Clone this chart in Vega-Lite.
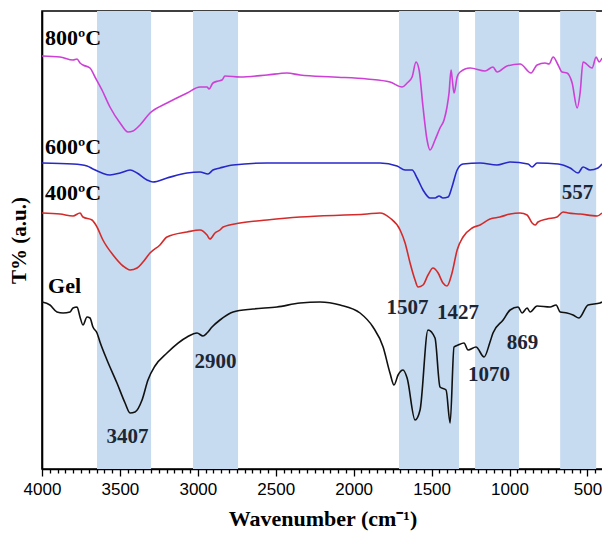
{
  "$schema": "https://vega.github.io/schema/vega-lite/v6.json",
  "autosize": {"type": "none"},
  "width": 561,
  "height": 458,
  "padding": {"left": 42, "top": 11, "right": 0, "bottom": 64},
  "background": "white",
  "config": {"view": {"stroke": "black", "strokeWidth": 1.6}},
  "datasets": {
    "bands": [
      {"w": 3647, "w2": 3300},
      {"w": 3031, "w2": 2742},
      {"w": 1709, "w2": 1324},
      {"w": 1221, "w2": 939},
      {"w": 675, "w2": 444}
    ],
    "spectra": [
      {"s": "800", "w": 4000, "t": 413}, {"s": "800", "w": 3884, "t": 412}, {"s": "800", "w": 3801, "t": 409}, {"s": "800", "w": 3775, "t": 410}, {"s": "800", "w": 3756, "t": 406}, {"s": "800", "w": 3737, "t": 404}, {"s": "800", "w": 3692, "t": 401}, {"s": "800", "w": 3660, "t": 392}, {"s": "800", "w": 3615, "t": 379}, {"s": "800", "w": 3564, "t": 362}, {"s": "800", "w": 3499, "t": 346}, {"s": "800", "w": 3448, "t": 337}, {"s": "800", "w": 3416, "t": 338}, {"s": "800", "w": 3371, "t": 344}, {"s": "800", "w": 3307, "t": 356}, {"s": "800", "w": 3198, "t": 366}, {"s": "800", "w": 3069, "t": 376}, {"s": "800", "w": 2986, "t": 382}, {"s": "800", "w": 2941, "t": 382}, {"s": "800", "w": 2928, "t": 380}, {"s": "800", "w": 2903, "t": 386}, {"s": "800", "w": 2870, "t": 388}, {"s": "800", "w": 2845, "t": 389}, {"s": "800", "w": 2826, "t": 393}, {"s": "800", "w": 2729, "t": 392}, {"s": "800", "w": 2556, "t": 394}, {"s": "800", "w": 2428, "t": 396}, {"s": "800", "w": 2344, "t": 394}, {"s": "800", "w": 2132, "t": 392}, {"s": "800", "w": 1914, "t": 390}, {"s": "800", "w": 1767, "t": 387}, {"s": "800", "w": 1689, "t": 382}, {"s": "800", "w": 1657, "t": 386}, {"s": "800", "w": 1625, "t": 392}, {"s": "800", "w": 1600, "t": 407}, {"s": "800", "w": 1580, "t": 399}, {"s": "800", "w": 1555, "t": 362}, {"s": "800", "w": 1529, "t": 329}, {"s": "800", "w": 1510, "t": 319}, {"s": "800", "w": 1478, "t": 329}, {"s": "800", "w": 1446, "t": 341}, {"s": "800", "w": 1420, "t": 349}, {"s": "800", "w": 1401, "t": 362}, {"s": "800", "w": 1388, "t": 376}, {"s": "800", "w": 1375, "t": 399}, {"s": "800", "w": 1369, "t": 392}, {"s": "800", "w": 1356, "t": 376}, {"s": "800", "w": 1336, "t": 392}, {"s": "800", "w": 1317, "t": 397}, {"s": "800", "w": 1253, "t": 401}, {"s": "800", "w": 1157, "t": 398}, {"s": "800", "w": 1106, "t": 402}, {"s": "800", "w": 1080, "t": 397}, {"s": "800", "w": 1016, "t": 403}, {"s": "800", "w": 932, "t": 405}, {"s": "800", "w": 862, "t": 396}, {"s": "800", "w": 823, "t": 404}, {"s": "800", "w": 772, "t": 406}, {"s": "800", "w": 746, "t": 405}, {"s": "800", "w": 720, "t": 412}, {"s": "800", "w": 688, "t": 404}, {"s": "800", "w": 663, "t": 397}, {"s": "800", "w": 631, "t": 396}, {"s": "800", "w": 598, "t": 386}, {"s": "800", "w": 566, "t": 361}, {"s": "800", "w": 547, "t": 376}, {"s": "800", "w": 528, "t": 407}, {"s": "800", "w": 470, "t": 401}, {"s": "800", "w": 444, "t": 412}, {"s": "800", "w": 425, "t": 407}, {"s": "800", "w": 406, "t": 411},

      {"s": "600", "w": 4000, "t": 306}, {"s": "600", "w": 3801, "t": 305}, {"s": "600", "w": 3711, "t": 303}, {"s": "600", "w": 3673, "t": 300}, {"s": "600", "w": 3615, "t": 296}, {"s": "600", "w": 3564, "t": 294}, {"s": "600", "w": 3499, "t": 296}, {"s": "600", "w": 3435, "t": 299}, {"s": "600", "w": 3390, "t": 296}, {"s": "600", "w": 3326, "t": 289}, {"s": "600", "w": 3288, "t": 287}, {"s": "600", "w": 3198, "t": 291}, {"s": "600", "w": 3069, "t": 296}, {"s": "600", "w": 2986, "t": 297}, {"s": "600", "w": 2935, "t": 295}, {"s": "600", "w": 2903, "t": 299}, {"s": "600", "w": 2858, "t": 301}, {"s": "600", "w": 2774, "t": 304}, {"s": "600", "w": 2556, "t": 306}, {"s": "600", "w": 2344, "t": 306}, {"s": "600", "w": 1831, "t": 306}, {"s": "600", "w": 1722, "t": 303}, {"s": "600", "w": 1670, "t": 299}, {"s": "600", "w": 1625, "t": 299}, {"s": "600", "w": 1593, "t": 291}, {"s": "600", "w": 1555, "t": 279}, {"s": "600", "w": 1510, "t": 271}, {"s": "600", "w": 1478, "t": 271}, {"s": "600", "w": 1452, "t": 273}, {"s": "600", "w": 1427, "t": 271}, {"s": "600", "w": 1394, "t": 272}, {"s": "600", "w": 1369, "t": 282}, {"s": "600", "w": 1336, "t": 299}, {"s": "600", "w": 1298, "t": 305}, {"s": "600", "w": 1189, "t": 306}, {"s": "600", "w": 1080, "t": 304}, {"s": "600", "w": 996, "t": 307}, {"s": "600", "w": 881, "t": 305}, {"s": "600", "w": 855, "t": 302}, {"s": "600", "w": 823, "t": 306}, {"s": "600", "w": 688, "t": 305}, {"s": "600", "w": 611, "t": 301}, {"s": "600", "w": 560, "t": 296}, {"s": "600", "w": 528, "t": 302}, {"s": "600", "w": 483, "t": 299}, {"s": "600", "w": 432, "t": 301}, {"s": "600", "w": 406, "t": 305},

      {"s": "400", "w": 4000, "t": 256}, {"s": "400", "w": 3884, "t": 255}, {"s": "400", "w": 3801, "t": 253}, {"s": "400", "w": 3756, "t": 256}, {"s": "400", "w": 3737, "t": 252}, {"s": "400", "w": 3679, "t": 249}, {"s": "400", "w": 3647, "t": 242}, {"s": "400", "w": 3609, "t": 229}, {"s": "400", "w": 3544, "t": 214}, {"s": "400", "w": 3480, "t": 203}, {"s": "400", "w": 3435, "t": 199}, {"s": "400", "w": 3390, "t": 201}, {"s": "400", "w": 3352, "t": 207}, {"s": "400", "w": 3307, "t": 216}, {"s": "400", "w": 3243, "t": 224}, {"s": "400", "w": 3198, "t": 232}, {"s": "400", "w": 3069, "t": 237}, {"s": "400", "w": 2986, "t": 239}, {"s": "400", "w": 2941, "t": 234}, {"s": "400", "w": 2922, "t": 230}, {"s": "400", "w": 2890, "t": 236}, {"s": "400", "w": 2858, "t": 239}, {"s": "400", "w": 2838, "t": 242}, {"s": "400", "w": 2729, "t": 246}, {"s": "400", "w": 2556, "t": 249}, {"s": "400", "w": 2344, "t": 252}, {"s": "400", "w": 1914, "t": 255}, {"s": "400", "w": 1831, "t": 256}, {"s": "400", "w": 1767, "t": 251}, {"s": "400", "w": 1702, "t": 239}, {"s": "400", "w": 1670, "t": 226}, {"s": "400", "w": 1638, "t": 206}, {"s": "400", "w": 1606, "t": 189}, {"s": "400", "w": 1587, "t": 182}, {"s": "400", "w": 1555, "t": 184}, {"s": "400", "w": 1523, "t": 194}, {"s": "400", "w": 1491, "t": 201}, {"s": "400", "w": 1458, "t": 196}, {"s": "400", "w": 1427, "t": 186}, {"s": "400", "w": 1401, "t": 183}, {"s": "400", "w": 1369, "t": 196}, {"s": "400", "w": 1336, "t": 219}, {"s": "400", "w": 1298, "t": 232}, {"s": "400", "w": 1240, "t": 241}, {"s": "400", "w": 1189, "t": 244}, {"s": "400", "w": 1125, "t": 250}, {"s": "400", "w": 1061, "t": 252}, {"s": "400", "w": 996, "t": 255}, {"s": "400", "w": 932, "t": 256}, {"s": "400", "w": 887, "t": 254}, {"s": "400", "w": 855, "t": 246}, {"s": "400", "w": 836, "t": 244}, {"s": "400", "w": 817, "t": 247}, {"s": "400", "w": 759, "t": 250}, {"s": "400", "w": 695, "t": 252}, {"s": "400", "w": 656, "t": 257}, {"s": "400", "w": 624, "t": 256}, {"s": "400", "w": 547, "t": 255}, {"s": "400", "w": 438, "t": 253}, {"s": "400", "w": 406, "t": 256},

      {"s": "Gel", "w": 4000, "t": 167}, {"s": "Gel", "w": 3949, "t": 164}, {"s": "Gel", "w": 3904, "t": 157}, {"s": "Gel", "w": 3865, "t": 156}, {"s": "Gel", "w": 3820, "t": 157}, {"s": "Gel", "w": 3801, "t": 161}, {"s": "Gel", "w": 3775, "t": 162}, {"s": "Gel", "w": 3756, "t": 152}, {"s": "Gel", "w": 3737, "t": 144}, {"s": "Gel", "w": 3711, "t": 152}, {"s": "Gel", "w": 3692, "t": 151}, {"s": "Gel", "w": 3673, "t": 142}, {"s": "Gel", "w": 3647, "t": 136}, {"s": "Gel", "w": 3628, "t": 127}, {"s": "Gel", "w": 3583, "t": 109}, {"s": "Gel", "w": 3519, "t": 86}, {"s": "Gel", "w": 3467, "t": 66}, {"s": "Gel", "w": 3435, "t": 56}, {"s": "Gel", "w": 3403, "t": 57}, {"s": "Gel", "w": 3358, "t": 69}, {"s": "Gel", "w": 3320, "t": 89}, {"s": "Gel", "w": 3275, "t": 103}, {"s": "Gel", "w": 3198, "t": 116}, {"s": "Gel", "w": 3069, "t": 132}, {"s": "Gel", "w": 3005, "t": 136}, {"s": "Gel", "w": 2967, "t": 133}, {"s": "Gel", "w": 2941, "t": 136}, {"s": "Gel", "w": 2909, "t": 142}, {"s": "Gel", "w": 2858, "t": 149}, {"s": "Gel", "w": 2774, "t": 157}, {"s": "Gel", "w": 2646, "t": 160}, {"s": "Gel", "w": 2492, "t": 162}, {"s": "Gel", "w": 2344, "t": 166}, {"s": "Gel", "w": 2216, "t": 167}, {"s": "Gel", "w": 2087, "t": 164}, {"s": "Gel", "w": 1959, "t": 156}, {"s": "Gel", "w": 1876, "t": 142}, {"s": "Gel", "w": 1811, "t": 122}, {"s": "Gel", "w": 1767, "t": 96}, {"s": "Gel", "w": 1741, "t": 84}, {"s": "Gel", "w": 1715, "t": 94}, {"s": "Gel", "w": 1683, "t": 99}, {"s": "Gel", "w": 1657, "t": 91}, {"s": "Gel", "w": 1606, "t": 49}, {"s": "Gel", "w": 1574, "t": 59}, {"s": "Gel", "w": 1523, "t": 139}, {"s": "Gel", "w": 1478, "t": 131}, {"s": "Gel", "w": 1446, "t": 82}, {"s": "Gel", "w": 1407, "t": 79}, {"s": "Gel", "w": 1381, "t": 46}, {"s": "Gel", "w": 1356, "t": 122}, {"s": "Gel", "w": 1330, "t": 124}, {"s": "Gel", "w": 1292, "t": 126}, {"s": "Gel", "w": 1266, "t": 119}, {"s": "Gel", "w": 1215, "t": 122}, {"s": "Gel", "w": 1163, "t": 112}, {"s": "Gel", "w": 1125, "t": 127}, {"s": "Gel", "w": 1106, "t": 136}, {"s": "Gel", "w": 1041, "t": 149}, {"s": "Gel", "w": 996, "t": 159}, {"s": "Gel", "w": 945, "t": 162}, {"s": "Gel", "w": 919, "t": 156}, {"s": "Gel", "w": 887, "t": 161}, {"s": "Gel", "w": 868, "t": 157}, {"s": "Gel", "w": 823, "t": 163}, {"s": "Gel", "w": 740, "t": 162}, {"s": "Gel", "w": 701, "t": 164}, {"s": "Gel", "w": 675, "t": 157}, {"s": "Gel", "w": 631, "t": 156}, {"s": "Gel", "w": 592, "t": 154}, {"s": "Gel", "w": 554, "t": 151}, {"s": "Gel", "w": 496, "t": 164}, {"s": "Gel", "w": 419, "t": 166}, {"s": "Gel", "w": 406, "t": 167}
    ],
    "series_labels": [
      {"label": "800ºC", "w": 3981, "t": 431},
      {"label": "600ºC", "w": 3981, "t": 322},
      {"label": "400ºC", "w": 3981, "t": 276},
      {"label": "Gel", "w": 3961, "t": 183}
    ],
    "peaks": [
      {"label": "3407", "w": 3451, "t": 32},
      {"label": "2900", "w": 2886, "t": 107},
      {"label": "1507", "w": 1654, "t": 161},
      {"label": "1427", "w": 1330, "t": 156},
      {"label": "1070", "w": 1131, "t": 94},
      {"label": "869", "w": 916, "t": 126},
      {"label": "557", "w": 563, "t": 276}
    ]
  },
  "encoding": {
    "x": {"field": "w", "type": "quantitative", "scale": {"domain": [4000, 400], "nice": false, "zero": false},
      "axis": {
        "values": [4000, 3950, 3900, 3850, 3800, 3750, 3700, 3650, 3600, 3550, 3500, 3450, 3400, 3350, 3300, 3250, 3200, 3150, 3100, 3050, 3000, 2950, 2900, 2850, 2800, 2750, 2700, 2650, 2600, 2550, 2500, 2450, 2400, 2350, 2300, 2250, 2200, 2150, 2100, 2050, 2000, 1950, 1900, 1850, 1800, 1750, 1700, 1650, 1600, 1550, 1500, 1450, 1400, 1350, 1300, 1250, 1200, 1150, 1100, 1050, 1000, 950, 900, 850, 800, 750, 700, 650, 600, 550, 500, 450],
        "format": "d",
        "labelExpr": "datum.value % 500 === 0 ? datum.label : ''",
        "labelOverlap": false,
        "labelFlush": false,
        "labelFont": "Liberation Sans",
        "labelFontSize": 17,
        "labelColor": "black",
        "labelPadding": 5,
        "tickColor": "black",
        "tickWidth": 1.3,
        "tickSize": {"condition": {"test": "datum.value % 500 === 0", "value": 7}, "value": 4},
        "domainColor": "black",
        "domainWidth": 1.6,
        "grid": false,
        "title": "Wavenumber (cm⁻¹)",
        "titleFont": "Liberation Serif",
        "titleFontSize": 22,
        "titleFontWeight": "bold",
        "titleColor": "black",
        "titlePadding": 11
      }
    },
    "y": {"field": "t", "type": "quantitative", "scale": {"domain": [0, 458], "nice": false, "zero": false},
      "axis": {"ticks": false, "labels": false, "grid": false, "domainColor": "black", "domainWidth": 1.6,
        "title": "T% (a.u.)", "titleFont": "Liberation Serif", "titleFontSize": 21, "titleFontWeight": "bold", "titleColor": "black", "titlePadding": 13}}
  },
  "layer": [
    {
      "data": {"name": "bands"},
      "mark": {"type": "rect", "color": "#c6dbef", "opacity": 1},
      "encoding": {
        "x": {"field": "w", "type": "quantitative"},
        "x2": {"field": "w2"},
        "y": null
      }
    },
    {
      "data": {"name": "spectra"},
      "mark": {"type": "line", "strokeWidth": 1.6, "interpolate": "monotone", "clip": true},
      "encoding": {
        "color": {"field": "s", "type": "nominal", "legend": null,
          "scale": {"domain": ["800", "600", "400", "Gel"], "range": ["#cc40d6", "#2828c8", "#d42a2a", "#111111"]}},
        "detail": {"field": "s"}
      }
    },
    {
      "data": {"name": "series_labels"},
      "mark": {"type": "text", "align": "left", "baseline": "middle", "font": "Liberation Serif", "fontSize": 22, "fontWeight": "bold", "color": "black"},
      "encoding": {"text": {"field": "label"}}
    },
    {
      "data": {"name": "peaks"},
      "mark": {"type": "text", "align": "center", "baseline": "middle", "font": "Liberation Serif", "fontSize": 21, "fontWeight": "bold", "color": "#1c2636"},
      "encoding": {"text": {"field": "label"}}
    }
  ]
}
